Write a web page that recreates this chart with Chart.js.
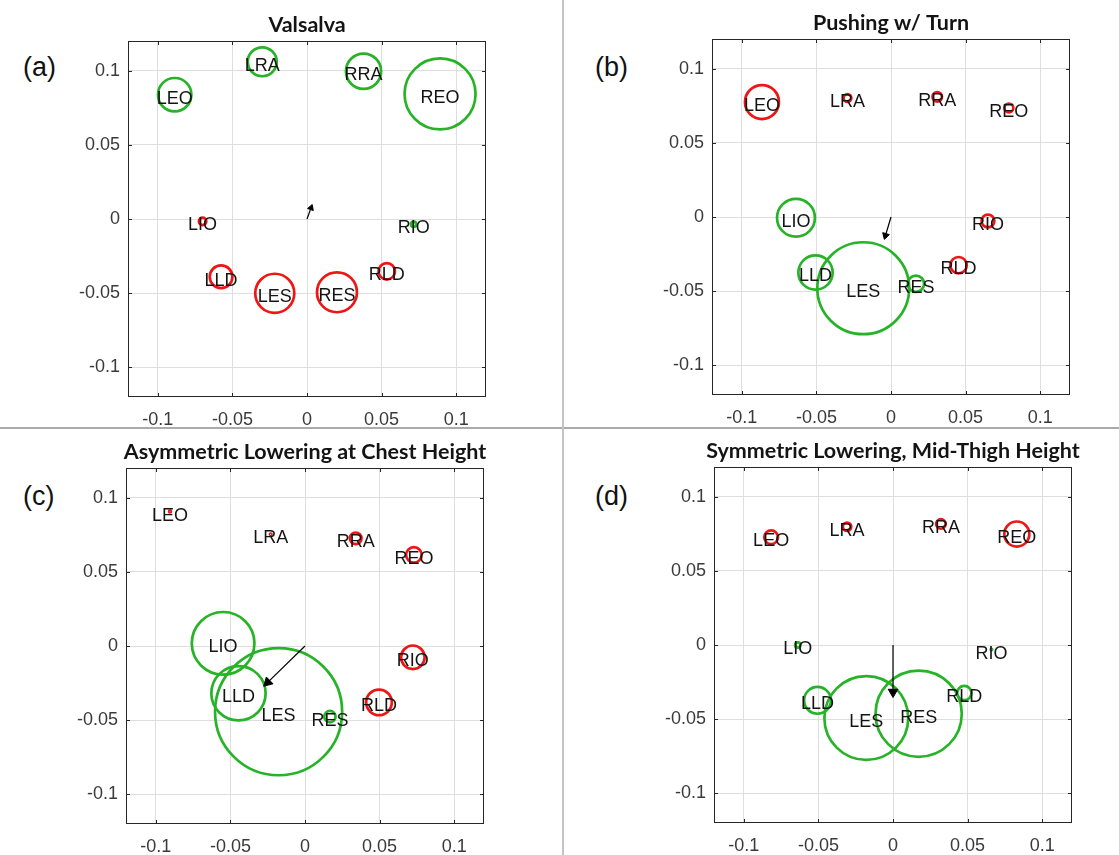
<!DOCTYPE html>
<html>
<head>
<meta charset="utf-8">
<script src="https://cdn.jsdelivr.net/npm/chart.js@4.4.0/dist/chart.umd.min.js"></script>
<style>
html, body { margin: 0; padding: 0; background: #fff; }
body { width: 1119px; height: 855px; position: relative; overflow: hidden; font-family: "Liberation Sans", Arial, sans-serif; }
.panel { position: absolute; width: 498px; height: 437px; }
.tag { position: absolute; font-size: 27px; color: #111; line-height: 1; }
.hline { position: absolute; left: 0; top: 427px; width: 1119px; height: 2px; background: #aaaaaa; }
.vline { position: absolute; left: 562px; top: 0; width: 2px; height: 855px; background: #c4c4c4; }
</style>
</head>
<body>
<div class="hline"></div>
<div class="vline"></div>

<div class="panel" style="left:58px;top:0px"><canvas id="chartA" width="498" height="437"></canvas></div>
<div class="panel" style="left:642px;top:-2px"><canvas id="chartB" width="498" height="437"></canvas></div>
<div class="panel" style="left:56px;top:427px"><canvas id="chartC" width="498" height="437"></canvas></div>
<div class="panel" style="left:644px;top:426px"><canvas id="chartD" width="498" height="437"></canvas></div>

<div class="tag" style="left:23px;top:54px">(a)</div>
<div class="tag" style="left:595px;top:54px">(b)</div>
<div class="tag" style="left:23px;top:483px">(c)</div>
<div class="tag" style="left:595px;top:483px">(d)</div>

<script>
// muscle order is the same in every panel
const muscles = ['LEO', 'LRA', 'RRA', 'REO', 'LIO', 'RIO', 'LLD', 'LES', 'RES', 'RLD'];
const tickVals = [-0.1, -0.05, 0, 0.05, 0.1];
const tickLabels = ['-0.1', '-0.05', '0', '0.05', '0.1'];

// (a) Valsalva
const xA = [-0.0887, -0.0300, 0.0379, 0.0892, -0.0700, 0.0715, -0.0576, -0.0216, 0.0201, 0.0535];
const yA = [0.0838, 0.1060, 0.0996, 0.0843, -0.0016, -0.0035, -0.0389, -0.0501, -0.0494, -0.0353];
const rA = [0.0112, 0.0097, 0.0118, 0.0238, 0.0025, 0.0017, 0.0076, 0.0131, 0.0134, 0.0055];
const cA = ['g', 'g', 'g', 'g', 'r', 'g', 'r', 'r', 'r', 'r'];
const arrowA = [0.0027, 0.0075];

// (b) Pushing w/ Turn
const xB = [-0.0865, -0.0292, 0.0310, 0.0790, -0.0637, 0.0650, -0.0506, -0.0186, 0.0167, 0.0453];
const yB = [0.0775, 0.0802, 0.0810, 0.0735, -0.0005, -0.0027, -0.0374, -0.0480, -0.0450, -0.0325];
const rB = [0.0114, 0.0026, 0.0032, 0.0030, 0.0127, 0.0043, 0.0115, 0.0308, 0.0055, 0.0055];
const cB = ['r', 'r', 'r', 'r', 'g', 'r', 'g', 'g', 'g', 'r'];
const arrowB = [-0.0037, -0.0125];

// (c) Asymmetric Lowering at Chest Height
const xC = [-0.0905, -0.0230, 0.0340, 0.0730, -0.0549, 0.0723, -0.0446, -0.0177, 0.0167, 0.0496];
const yC = [0.0906, 0.0753, 0.0726, 0.0614, 0.0018, -0.0076, -0.0319, -0.0443, -0.0476, -0.0380];
const rC = [0.0006, 0.0005, 0.0039, 0.0052, 0.0210, 0.0079, 0.0182, 0.0426, 0.0038, 0.0086];
const cC = ['r', 'r', 'r', 'r', 'g', 'r', 'g', 'g', 'g', 'r'];
const arrowC = [-0.0250, -0.0245];

// (d) Symmetric Lowering, Mid-Thigh Height
const xD = [-0.0817, -0.0308, 0.0321, 0.0830, -0.0638, 0.0660, -0.0506, -0.0179, 0.0172, 0.0478];
const yD = [0.0726, 0.0797, 0.0816, 0.0748, 0.0000, -0.0031, -0.0373, -0.0492, -0.0463, -0.0324];
const rD = [0.0046, 0.0028, 0.0032, 0.0084, 0.0018, 0.0005, 0.0090, 0.0281, 0.0289, 0.0048];
const cD = ['r', 'r', 'r', 'r', 'g', 'g', 'g', 'g', 'g', 'g'];
const arrowD = [0, -0.0317];

const RED = '#f01515';
const GREEN = '#27b327';

// box with inward ticks on all four sides, like a matlab axes
const framePlugin = {
    id: 'frame',
    beforeDatasetsDraw(chart) {
        const { ctx, chartArea: a, scales: { x, y } } = chart;
        ctx.save();
        ctx.strokeStyle = '#262626';
        ctx.lineWidth = 1;
        ctx.strokeRect(a.left + 0.5, a.top + 0.5, a.width - 1, a.height - 1);
        ctx.beginPath();
        tickVals.forEach(v => {
            const px = Math.round(x.getPixelForValue(v)) + 0.5;
            ctx.moveTo(px, a.bottom); ctx.lineTo(px, a.bottom - 4);
            ctx.moveTo(px, a.top); ctx.lineTo(px, a.top + 4);
            const py = Math.round(y.getPixelForValue(v)) + 0.5;
            ctx.moveTo(a.left, py); ctx.lineTo(a.left + 4, py);
            ctx.moveTo(a.right, py); ctx.lineTo(a.right - 4, py);
        });
        ctx.stroke();
        ctx.restore();
    }
};

// muscle names on top of the circles
const namePlugin = {
    id: 'names',
    afterDatasetsDraw(chart) {
        const { ctx } = chart;
        const meta = chart.getDatasetMeta(1);
        ctx.save();
        ctx.font = '18px "Liberation Sans", Arial, sans-serif';
        ctx.fillStyle = '#141414';
        ctx.textAlign = 'center';
        ctx.textBaseline = 'middle';
        meta.data.forEach((pt, i) => {
            ctx.fillText(muscles[i], pt.x, pt.y + 4);
        });
        ctx.restore();
    }
};

function axisOptions(isX) {
    return {
        type: 'linear',
        min: -0.12,
        max: 0.12,
        afterBuildTicks: s => { s.ticks = tickVals.map(v => ({ value: v })); },
        afterFit: s => { if (isX) s.height = 40; else s.width = 70; },
        grid: { color: '#dedede', lineWidth: 1, drawTicks: false },
        border: { display: false },
        ticks: {
            padding: isX ? 12 : 8,
            color: '#3a3a3a',
            font: { family: 'Liberation Sans', size: 18 },
            callback: (v, i) => tickLabels[i]
        }
    };
}

function makePanel(id, title, xs, ys, rs, cs, arrow, headSize) {
    const pts = xs.map((x, i) => ({ x: x, y: ys[i] }));
    const angle = Math.atan2(arrow[0], arrow[1]) * 180 / Math.PI;

    new Chart(document.getElementById(id), {
        type: 'scatter',
        data: {
            datasets: [
                {
                    // resultant arrow from the origin
                    data: [{ x: 0, y: 0 }, { x: arrow[0], y: arrow[1] }],
                    showLine: true,
                    borderColor: '#000',
                    borderWidth: 1.2,
                    pointStyle: 'triangle',
                    pointRadius: [0, headSize],
                    rotation: [0, angle],
                    pointBackgroundColor: '#000',
                    pointBorderColor: '#000',
                    pointBorderWidth: 1
                },
                {
                    data: pts,
                    showLine: false,
                    pointStyle: 'circle',
                    pointBackgroundColor: 'rgba(0,0,0,0)',
                    pointBorderColor: ctx => cs[ctx.dataIndex] === 'r' ? RED : GREEN,
                    pointBorderWidth: 2.7,
                    pointRadius: ctx => {
                        const sx = ctx.chart.scales.x;
                        const px = Math.abs(sx.getPixelForValue(rs[ctx.dataIndex]) - sx.getPixelForValue(0));
                        return Math.max(px, 0.6);
                    }
                }
            ]
        },
        options: {
            responsive: false,
            animation: false,
            events: [],
            layout: { padding: 0 },
            plugins: {
                legend: { display: false },
                tooltip: { enabled: false },
                title: {
                    display: true,
                    text: title,
                    color: '#141414',
                    font: { family: 'Lato', size: 21.5, weight: 'bold' },
                    padding: { top: 12, bottom: 3.2 }
                }
            },
            scales: {
                x: axisOptions(true),
                y: axisOptions(false),
                // empty right-hand axis, only there so the title sits over the plot centre
                yPad: {
                    type: 'linear',
                    position: 'right',
                    min: -0.12,
                    max: 0.12,
                    afterFit: s => { s.width = 70; },
                    grid: { display: false },
                    border: { display: false },
                    ticks: { display: false }
                }
            }
        },
        plugins: [framePlugin, namePlugin]
    });
}

makePanel('chartA', 'Valsalva', xA, yA, rA, cA, arrowA, 3.5);
makePanel('chartB', 'Pushing w/ Turn', xB, yB, rB, cB, arrowB, 4);
makePanel('chartC', 'Asymmetric Lowering at Chest Height', xC, yC, rC, cC, arrowC, 5.5);
makePanel('chartD', 'Symmetric Lowering, Mid-Thigh Height', xD, yD, rD, cD, arrowD, 5.5);
</script>
</body>
</html>
